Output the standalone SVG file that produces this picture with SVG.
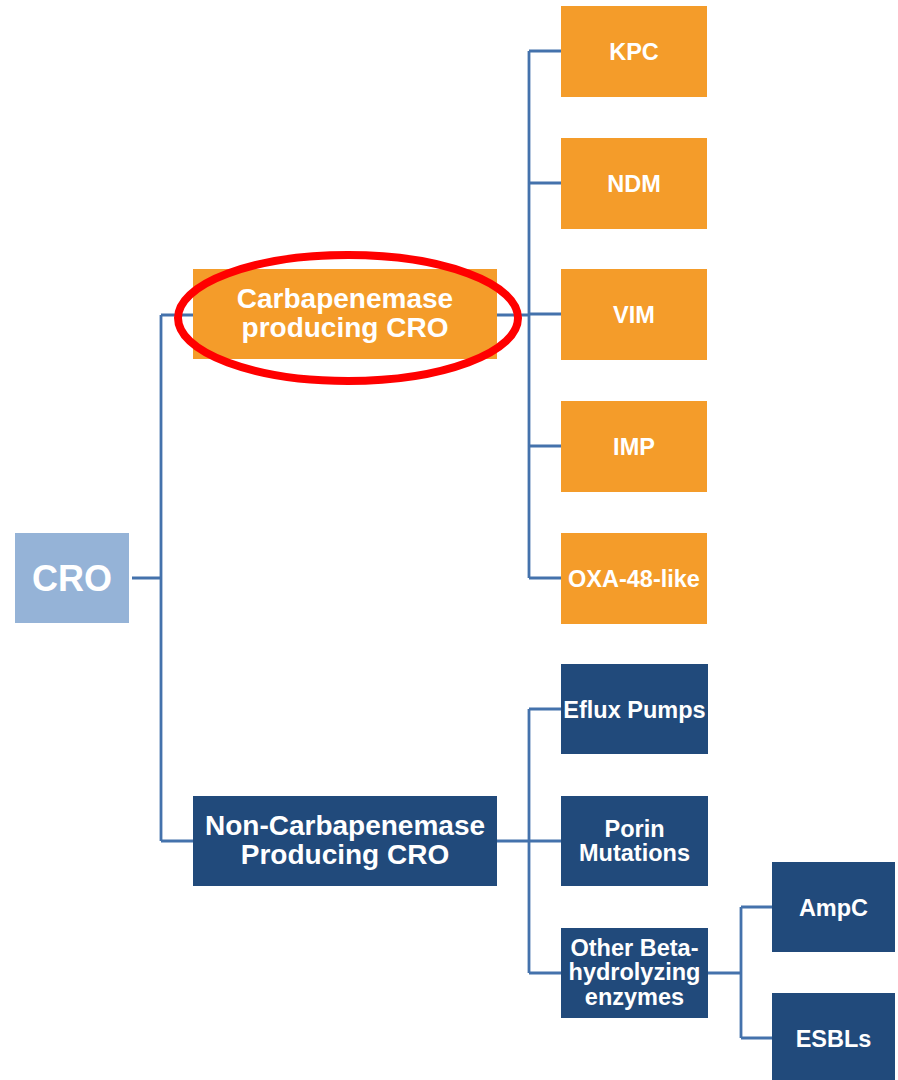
<svg xmlns="http://www.w3.org/2000/svg" width="898" height="1080" viewBox="0 0 898 1080">
  <style>
    .orange { fill: #F49C2A; }
    .navy { fill: #214A7B; }
    .root { fill: #95B3D7; }
    .lbl { font-family: "Liberation Sans", Arial, sans-serif; font-weight: bold; fill: #FFFFFF; text-anchor: middle; }
    .big { font-size: 36px; }
    .mid { font-size: 28px; }
    .sm { font-size: 23.5px; }
    .link { fill: none; stroke: #4472AC; stroke-width: 2.8; }
  </style>
  <rect width="898" height="1080" fill="#FFFFFF"/>

  <!-- tree connectors -->
  <g id="connectors" class="link">
    <path d="M132 578 H161 M161 315 V841 M161 315 H193 M161 841 H193"/>
    <path d="M497 315 H529 M529 51 V578 M529 51 H561 M529 183 H561 M529 314 H561 M529 446 H561 M529 578 H561"/>
    <path d="M497 841 H529 M529 709 V973 M529 709 H561 M529 841 H561 M529 973 H561"/>
    <path d="M708 973 H741 M741 907 V1038 M741 907 H772 M741 1038 H772"/>
  </g>

  <g id="node-cro">
    <rect class="root" x="15" y="533" width="114" height="90"/>
    <text class="lbl big" x="72" y="591">CRO</text>
  </g>

  <g id="node-carbapenemase">
    <rect class="orange" x="193" y="269" width="304" height="90"/>
    <text class="lbl mid" x="345" y="308">Carbapenemase</text>
    <text class="lbl mid" x="345" y="337">producing CRO</text>
  </g>

  <g id="node-noncarbapenemase">
    <rect class="navy" x="193" y="796" width="304" height="90"/>
    <text class="lbl mid" x="345" y="835">Non-Carbapenemase</text>
    <text class="lbl mid" x="345" y="864">Producing CRO</text>
  </g>

  <g id="node-kpc">
    <rect class="orange" x="561" y="6" width="146" height="91"/>
    <text class="lbl sm" x="634" y="59.5">KPC</text>
  </g>
  <g id="node-ndm">
    <rect class="orange" x="561" y="138" width="146" height="91"/>
    <text class="lbl sm" x="634" y="191.5">NDM</text>
  </g>
  <g id="node-vim">
    <rect class="orange" x="561" y="269" width="146" height="91"/>
    <text class="lbl sm" x="634" y="322.5">VIM</text>
  </g>
  <g id="node-imp">
    <rect class="orange" x="561" y="401" width="146" height="91"/>
    <text class="lbl sm" x="634" y="454.5">IMP</text>
  </g>
  <g id="node-oxa48">
    <rect class="orange" x="561" y="533" width="146" height="91"/>
    <text class="lbl sm" x="634" y="586.5">OXA-48-like</text>
  </g>

  <g id="node-eflux">
    <rect class="navy" x="561" y="664" width="147" height="90"/>
    <text class="lbl sm" x="634.5" y="717.5">Eflux Pumps</text>
  </g>
  <g id="node-porin">
    <rect class="navy" x="561" y="796" width="147" height="90"/>
    <text class="lbl sm" x="634.5" y="837">Porin</text>
    <text class="lbl sm" x="634.5" y="861">Mutations</text>
  </g>
  <g id="node-otherbeta">
    <rect class="navy" x="561" y="928" width="147" height="90"/>
    <text class="lbl sm" x="634.5" y="956">Other Beta-</text>
    <text class="lbl sm" x="634.5" y="980">hydrolyzing</text>
    <text class="lbl sm" x="634.5" y="1005">enzymes</text>
  </g>

  <g id="node-ampc">
    <rect class="navy" x="772" y="862" width="123" height="90"/>
    <text class="lbl sm" x="833.5" y="915.5">AmpC</text>
  </g>
  <g id="node-esbls">
    <rect class="navy" x="772" y="993" width="123" height="90"/>
    <text class="lbl sm" x="833.5" y="1046.5">ESBLs</text>
  </g>

  <!-- highlight ring around the carbapenemase branch -->
  <ellipse id="highlight" cx="348" cy="318" rx="170" ry="63" fill="none" stroke="#FF0000" stroke-width="8"/>
</svg>
